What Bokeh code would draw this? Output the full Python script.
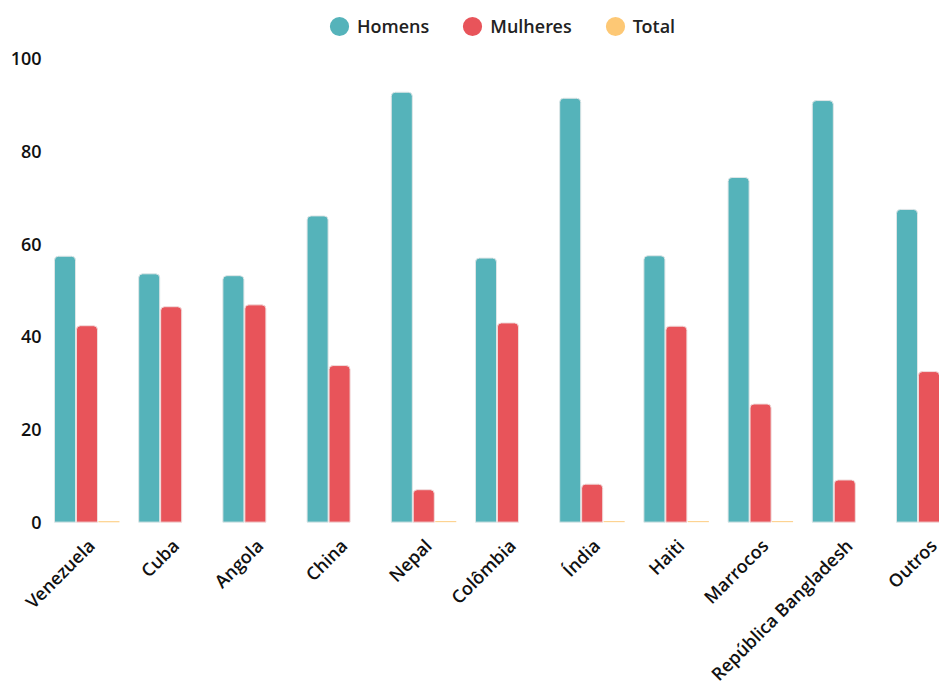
from math import pi, nan

from bokeh.core.properties import value
from bokeh.embed import file_html
from bokeh.models import ColumnDataSource, Legend, LegendItem, Range1d
from bokeh.plotting import figure
from bokeh.resources import INLINE
from bokeh.transform import dodge

# Share of residents by country of origin (%)
paises = ["Venezuela", "Cuba", "Angola", "China", "Nepal", "Colômbia",
          "Índia", "Haiti", "Marrocos", "República Bangladesh", "Outros"]
homens = [57.4, 53.6, 53.2, 66.1, 92.8, 57.0, 91.5, 57.5, 74.4, 91.0, 67.5]
mulheres = [42.4, 46.5, 46.9, 33.8, 7.0, 43.0, 8.2, 42.3, 25.5, 9.1, 32.5]
total = [0.2, 0.0, 0.0, 0.0, 0.2, 0.0, 0.2, 0.2, 0.2, 0.0, 0.0]
y_ticks = [0, 20, 40, 60, 80, 100]

COR_H = "#55b3ba"
COR_M = "#e8545a"
COR_T = "#fdc875"
FONT = "Open Sans SemiBold"
TXT = "#111111"

idx = list(range(len(paises)))
source = ColumnDataSource(dict(x=idx, pais=paises, homens=homens,
                               mulheres=mulheres, total=total))
ticks = ColumnDataSource(dict(y=y_ticks, label=[str(t) for t in y_ticks]))

# The frame fills the whole canvas; the 0-100 value band sits in the middle,
# leaving room above for the legend, left for the value labels and below for
# the slanted country names.
x_start, x_end = -1.027, 10.125
p = figure(width=939, height=681, output_backend="svg", toolbar_location=None,
           x_axis_location=None, y_axis_location=None,
           x_range=Range1d(x_start, x_end), y_range=Range1d(-34.4, 112.6),
           min_border=0)
p.outline_line_color = None
p.background_fill_color = "white"
p.border_fill_color = "white"
p.grid.grid_line_color = None

step = 0.261
bar_w = 0.25
radius = (4, 4, 0, 0)
p.vbar(x=dodge("x", -step), top="homens", width=bar_w, source=source,
       fill_color=COR_H, line_color="#dfe6e7", line_width=1,
       border_radius=radius)
p.vbar(x="x", top="mulheres", width=bar_w, source=source,
       fill_color=COR_M, line_color="#f0dcdc", line_width=1,
       border_radius=radius)
p.vbar(x=dodge("x", step), top="total", width=bar_w, source=source,
       fill_color=COR_T, line_color=None)

# Value labels at the left edge
p.text(x=x_start, y="y", text="label", source=ticks, x_offset=41,
       text_align="right", text_baseline="middle",
       text_font=value(FONT), text_font_size="18px", text_color=TXT)

# Country names under each group
p.text(x=dodge("x", 0.05), y=0, text="pais", source=source, angle=pi / 4,
       y_offset=20, text_align="right", text_baseline="middle",
       text_font=value(FONT), text_font_size="18px", text_color=TXT)

# Round legend swatches: ellipses with no position, so only the legend shows them
swatch = ColumnDataSource(dict(x=[nan], y=[nan]))
def dot(color):
    return p.ellipse("x", "y", source=swatch, width=19, height=19,
                     width_units="screen", height_units="screen",
                     fill_color=color, line_color=None)

s_h, s_m, s_t = dot(COR_H), dot(COR_M), dot(COR_T)

legend = Legend(items=[LegendItem(label="Homens", renderers=[s_h]),
                       LegendItem(label="Mulheres", renderers=[s_m]),
                       LegendItem(label="Total", renderers=[s_t])],
                orientation="horizontal", location=(327, 643),
                glyph_width=24, glyph_height=24, label_standoff=6,
                spacing=31, padding=2, margin=0,
                border_line_color=None, background_fill_alpha=0,
                label_text_font=FONT, label_text_font_size="18px",
                label_text_color="#222222")
p.add_layout(legend)

open("out.html", "w").write(file_html(p, INLINE))
